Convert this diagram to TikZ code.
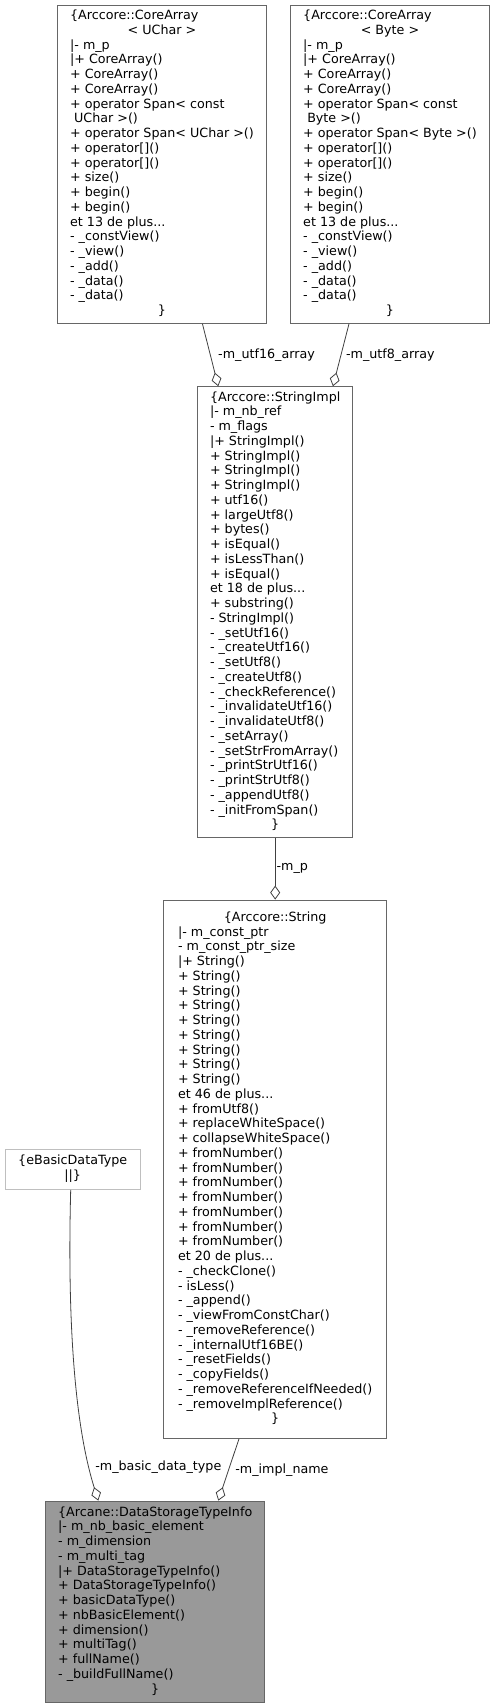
\documentclass[tikz,border=0pt]{standalone}
\usepackage{fontspec}
\setmainfont{DejaVu Sans}
\usepackage{tikz}
\usetikzlibrary{arrows.meta,positioning}
\definecolor{g_border}{HTML}{666666}
\definecolor{g_light}{HTML}{BFBFBF}
\definecolor{g_fill}{HTML}{999999}
\definecolor{g_edge}{HTML}{404040}
\tikzstyle{classbox} = [rectangle, draw=g_border, fill=white, line width=0.9pt,
	inner sep=0pt, font=\fontsize{12.7}{14.75}\selectfont]
\tikzstyle{member} = [draw=g_edge, line width=0.8pt, -{Diamond[open, length=14pt, width=10pt]}]
\tikzstyle{role} = [anchor=west, inner sep=0pt, font=\fontsize{12.7}{14.75}\selectfont]
\newcommand{\ctr}[1]{\multicolumn{1}{@{}c@{}}{#1}}

\begin{document}
\begin{tikzpicture}[x=1pt, y=-1pt]
	\useasboundingbox (0,0) rectangle (495,1708);

	\node[classbox, minimum width=208.6pt, minimum height=318.3pt] (uchar) at (162,164.2) {
		\begin{tabular}{@{}l@{}}
			\{Arccore::CoreArray \\
			\ctr{< UChar >} \\
			|- m\_p \\
			|+ CoreArray() \\
			+ CoreArray() \\
			+ CoreArray() \\
			+ operator Span< const \\
			\ UChar >() \\
			+ operator Span< UChar >() \\
			+ operator[]() \\
			+ operator[]() \\
			+ size() \\
			+ begin() \\
			+ begin() \\
			et 13 de plus... \\
			- \_constView() \\
			- \_view() \\
			- \_add() \\
			- \_data() \\
			- \_data() \\
			\ctr{\}}
		\end{tabular}
	};

	\node[classbox, minimum width=198.6pt, minimum height=318.3pt] (byte) at (390,164.2) {
		\begin{tabular}{@{}l@{}}
			\{Arccore::CoreArray \\
			\ctr{< Byte >} \\
			|- m\_p \\
			|+ CoreArray() \\
			+ CoreArray() \\
			+ CoreArray() \\
			+ operator Span< const \\
			\ Byte >() \\
			+ operator Span< Byte >() \\
			+ operator[]() \\
			+ operator[]() \\
			+ size() \\
			+ begin() \\
			+ begin() \\
			et 13 de plus... \\
			- \_constView() \\
			- \_view() \\
			- \_add() \\
			- \_data() \\
			- \_data() \\
			\ctr{\}}
		\end{tabular}
	};

	\node[classbox, minimum width=155pt, minimum height=450.6pt] (impl) at (275.2,612) {
		\begin{tabular}{@{}l@{}}
			\ctr{\{Arccore::StringImpl} \\
			|- m\_nb\_ref \\
			- m\_flags \\
			|+ StringImpl() \\
			+ StringImpl() \\
			+ StringImpl() \\
			+ StringImpl() \\
			+ utf16() \\
			+ largeUtf8() \\
			+ bytes() \\
			+ isEqual() \\
			+ isLessThan() \\
			+ isEqual() \\
			et 18 de plus... \\
			+ substring() \\
			- StringImpl() \\
			- \_setUtf16() \\
			- \_createUtf16() \\
			- \_setUtf8() \\
			- \_createUtf8() \\
			- \_checkReference() \\
			- \_invalidateUtf16() \\
			- \_invalidateUtf8() \\
			- \_setArray() \\
			- \_setStrFromArray() \\
			- \_printStrUtf16() \\
			- \_printStrUtf8() \\
			- \_appendUtf8() \\
			- \_initFromSpan() \\
			\ctr{\}}
		\end{tabular}
	};

	\node[classbox, minimum width=223pt, minimum height=538.3pt] (str) at (275.2,1169.2) {
		\begin{tabular}{@{}l@{}}
			\ctr{\{Arccore::String} \\
			|- m\_const\_ptr \\
			- m\_const\_ptr\_size \\
			|+ String() \\
			+ String() \\
			+ String() \\
			+ String() \\
			+ String() \\
			+ String() \\
			+ String() \\
			+ String() \\
			+ String() \\
			et 46 de plus... \\
			+ fromUtf8() \\
			+ replaceWhiteSpace() \\
			+ collapseWhiteSpace() \\
			+ fromNumber() \\
			+ fromNumber() \\
			+ fromNumber() \\
			+ fromNumber() \\
			+ fromNumber() \\
			+ fromNumber() \\
			+ fromNumber() \\
			et 20 de plus... \\
			- \_checkClone() \\
			- isLess() \\
			- \_append() \\
			- \_viewFromConstChar() \\
			- \_removeReference() \\
			- \_internalUtf16BE() \\
			- \_resetFields() \\
			- \_copyFields() \\
			- \_removeReferenceIfNeeded() \\
			- \_removeImplReference() \\
			\ctr{\}}
		\end{tabular}
	};

	\node[classbox, draw=g_light, minimum width=135.3pt, minimum height=40.3pt] (ebasic) at (72.7,1169.2) {
		\begin{tabular}{@{}c@{}}
			\{eBasicDataType \\
			||\}
		\end{tabular}
	};

	\node[classbox, fill=g_fill, minimum width=219pt, minimum height=201.3pt] (dsti) at (155.2,1601.7) {
		\begin{tabular}{@{}l@{}}
			\{Arcane::DataStorageTypeInfo \\
			|- m\_nb\_basic\_element \\
			- m\_dimension \\
			- m\_multi\_tag \\
			|+ DataStorageTypeInfo() \\
			+ DataStorageTypeInfo() \\
			+ basicDataType() \\
			+ nbBasicElement() \\
			+ dimension() \\
			+ multiTag() \\
			+ fullName() \\
			- \_buildFullName() \\
			\ctr{\}}
		\end{tabular}
	};

	% members
	\draw[member] (uchar) -- node[role, xshift=7.5pt] {-m\_utf16\_array} (impl);
	\draw[member] (byte) -- node[role, xshift=4.7pt] {-m\_utf8\_array} (impl);
	\draw[member] (impl) -- node[role, xshift=1pt] {-m\_p} (str);
	\draw[member] ([xshift=-2pt]ebasic.south) .. controls +(-3.7,141) and +(-22.3,-71) ..
		node[role, pos=0.85, xshift=5.8pt] {-m\_basic\_data\_type} ([xshift=-56.9pt]dsti.north);
	\draw[member] ([xshift=-36.2pt]str.south) -- node[role, xshift=6.3pt] {-m\_impl\_name} ([xshift=63.1pt]dsti.north);
\end{tikzpicture}
\end{document}
